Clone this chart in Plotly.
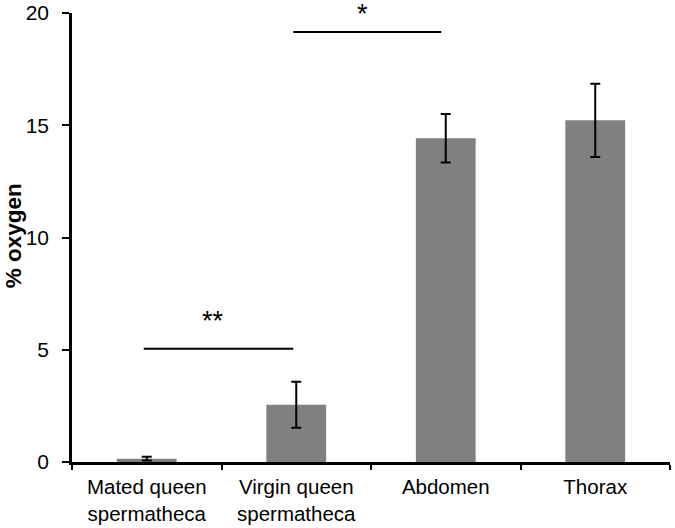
import plotly.graph_objects as go

categories = ["Mated queen<br>spermatheca", "Virgin queen<br>spermatheca", "Abdomen", "Thorax"]
values = [0.15, 2.55, 14.42, 15.22]
errors = [0.08, 1.02, 1.08, 1.63]
y_ticks = [0, 5, 10, 15, 20]

# significance brackets
bracket_x0 = [-0.02, 0.98]
bracket_x1 = [0.98, 1.97]
bracket_y = [5.05, 19.15]
sig_labels = ["**", "*"]
sig_label_x = [0.44, 1.44]
sig_label_y = [6.3, 20.0]
sig_label_shift = [0, -1]

FONT = "Liberation Sans, Arial, sans-serif"

fig = go.Figure()
fig.add_trace(go.Bar(
    x=categories, y=values, width=0.4,
    marker=dict(color="#808080", line=dict(width=0)),
    error_y=dict(type="data", array=errors, visible=True, color="black", thickness=2, width=5),
))

for x0, x1, yv in zip(bracket_x0, bracket_x1, bracket_y):
    fig.add_shape(type="line", xref="x", yref="y", x0=x0, x1=x1, y0=yv, y1=yv,
                  line=dict(color="black", width=2))

for t, xv, yv, sh in zip(sig_labels, sig_label_x, sig_label_y, sig_label_shift):
    fig.add_annotation(x=xv, y=yv, xref="x", yref="y", text=t, showarrow=False, yshift=sh,
                       font=dict(size=27, color="black", family=FONT), yanchor="middle")

fig.add_annotation(xref="paper", yref="paper", x=-0.0987, y=0.505, text="<b>% oxygen</b>",
                   textangle=-90, showarrow=False, font=dict(size=22.5, color="black", family=FONT),
                   xanchor="center", yanchor="middle")

fig.update_layout(
    width=675, height=528,
    margin=dict(l=72, r=5, t=13, b=65.5, pad=0, autoexpand=False),
    paper_bgcolor="white", plot_bgcolor="white",
    showlegend=False,
    font=dict(family=FONT, size=21, color="black"),
    bargap=0.6,
)
fig.update_xaxes(
    showline=True, linecolor="black", linewidth=2.5, automargin=False,
    ticks="outside", tickson="boundaries", ticklen=5, tickwidth=2, tickcolor="black",
    showgrid=False, tickfont=dict(size=20.5, family=FONT, color="black"),
    ticklabelstandoff=5, range=[-0.5, 3.5],
)
fig.update_yaxes(
    range=[0, 20], tickvals=y_ticks, showline=True, linecolor="black", linewidth=2.5,
    ticks="outside", ticklen=7, tickwidth=2, tickcolor="black", automargin=False,
    showgrid=False, zeroline=False, ticklabelstandoff=9,
    tickfont=dict(size=21, family=FONT, color="black"),
)

fig.write_html("out.html", config={"displayModeBar": False},
               post_script="document.body.style.margin='0';")
